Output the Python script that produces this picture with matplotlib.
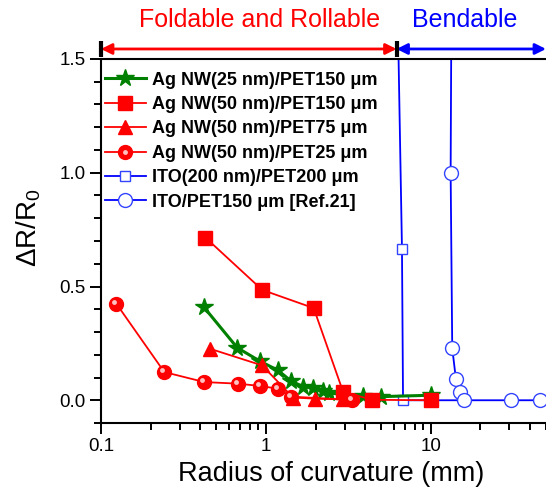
import matplotlib
matplotlib.use("Agg")
import matplotlib.pyplot as plt
import matplotlib.transforms as mtransforms
from matplotlib.ticker import MultipleLocator, LogLocator, NullFormatter, FixedLocator, FixedFormatter

plt.rcParams['font.family'] = ['Liberation Sans', 'DejaVu Sans']
plt.rcParams['mathtext.fontset'] = 'custom'
plt.rcParams['mathtext.rm'] = 'Liberation Sans'
plt.rcParams['mathtext.it'] = 'Liberation Sans:italic'

# bending radius (mm) vs. relative resistance change
r_ag25_150 = [0.42, 0.67, 0.92, 1.18, 1.42, 1.68, 1.94, 2.22, 2.42, 3.9, 5.0, 10.0]
dr_ag25_150 = [0.41, 0.231, 0.172, 0.132, 0.085, 0.06, 0.056, 0.041, 0.031, 0.019, 0.016, 0.022]

r_ag50_150 = [0.43, 0.95, 1.95, 2.94, 4.43, 10.0]
dr_ag50_150 = [0.715, 0.485, 0.405, 0.037, 0.002, 0.0]

r_ag50_75 = [0.46, 0.95, 1.46, 1.99, 2.94]
dr_ag50_75 = [0.226, 0.153, 0.012, 0.007, 0.004]

r_ag50_25 = [0.124, 0.242, 0.423, 0.674, 0.92, 1.18, 1.43, 3.35]
dr_ag50_25 = [0.424, 0.124, 0.08, 0.073, 0.063, 0.051, 0.016, 0.001]

r_ito200 = [6.2, 6.69, 6.79, 15.9]
dr_ito200 = [2.0, 0.665, 0.0, 0.0]

r_ito_ref = [13.4, 13.2, 13.5, 14.2, 15.0, 15.9, 30.8, 45.8]
dr_ito_ref = [2.0, 1.0, 0.228, 0.095, 0.038, 0.0, 0.0, 0.0]

labels = ['Ag NW(25 nm)/PET150 μm', 'Ag NW(50 nm)/PET150 μm', 'Ag NW(50 nm)/PET75 μm',
          'Ag NW(50 nm)/PET25 μm', 'ITO(200 nm)/PET200 μm', 'ITO/PET150 μm [Ref.21]']

x_ticks = [0.1, 1, 10]
x_ticklabels = ['0.1', '1', '10']
region_edge = 6.2

red = '#ff0000'
blue = '#0000ff'
green = '#008000'

fig = plt.figure(figsize=(5.46, 4.94), dpi=100)
ax = fig.add_axes([0.185, 0.1437, 0.815, 0.7369])

# ITO curves underneath
l_ito200, = ax.plot(r_ito200, dr_ito200, '-s', color=blue, lw=1.3, ms=7, mfc='white',
                    mec='#3344ff', mew=1.0, zorder=2)
l_itoref, = ax.plot(r_ito_ref, dr_ito_ref, '-o', color=blue, lw=1.3, ms=10, mfc='white',
                    mec='#3344ff', mew=1.0, zorder=2)

l_ag25, = ax.plot(r_ag25_150, dr_ag25_150, '-*', color=green, lw=2.2, ms=13, zorder=3)
l_sq, = ax.plot(r_ag50_150, dr_ag50_150, '-s', color=red, lw=1.3, ms=9.5, zorder=3)
l_tri, = ax.plot(r_ag50_75, dr_ag50_75, '-^', color=red, lw=1.3, ms=10.5, zorder=3)
l_sph, = ax.plot(r_ag50_25, dr_ag50_25, '-o', color=red, lw=1.3, ms=10, zorder=3)
# highlight spot on the spheres
shine = mtransforms.offset_copy(ax.transData, fig=fig, x=-1.5, y=1.5, units='points')
l_hl, = ax.plot(r_ag50_25, dr_ag50_25, 'o', color='#ffc0c0', ms=3.5, mew=0,
                transform=shine, zorder=3.1)

ax.set_xscale('log')
ax.set_xlim(0.1, 50)
ax.set_ylim(-0.1, 1.5)

ax.xaxis.set_major_locator(FixedLocator(x_ticks))
ax.xaxis.set_major_formatter(FixedFormatter(x_ticklabels))
ax.xaxis.set_minor_locator(LogLocator(base=10, subs=range(2, 10)))
ax.xaxis.set_minor_formatter(NullFormatter())
ax.yaxis.set_major_locator(MultipleLocator(0.5))
ax.yaxis.set_minor_locator(MultipleLocator(0.1))
ax.yaxis.set_major_formatter(lambda v, p: f'{v:.1f}')

ax.tick_params(which='both', direction='out', width=1.4, labelsize=13.5, top=False, right=False)
ax.tick_params(which='major', length=8, pad=3)
ax.tick_params(which='minor', length=5)
for s in ['left', 'bottom', 'top']:
    ax.spines[s].set_linewidth(1.5)
ax.spines['right'].set_visible(False)

ax.set_xlabel('Radius of curvature (mm)', fontsize=19.5, labelpad=1)
ax.xaxis.set_label_coords(0.518, -0.105)
ax.set_ylabel('ΔR/R$_\\mathregular{0}$', fontsize=20)
ax.yaxis.set_label_coords(-0.13, 0.536)

leg = ax.legend([l_ag25, l_sq, l_tri, (l_sph, l_hl), l_ito200, l_itoref], labels,
                loc='upper left', bbox_to_anchor=(-0.004, 0.98), frameon=False,
                prop={'weight': 'bold', 'size': 13}, handlelength=2.3, handletextpad=0.35,
                labelspacing=0.41, borderpad=0.3, borderaxespad=0)

# region markers above the plot
yb = 1.0275
trans = mtransforms.blended_transform_factory(ax.transData, ax.transAxes)
ax.annotate('', xy=(region_edge, yb), xytext=(0.1, yb), xycoords=trans, textcoords=trans,
            arrowprops=dict(arrowstyle='<|-|>', color=red, lw=2, mutation_scale=16,
                            shrinkA=0, shrinkB=0), annotation_clip=False)
ax.annotate('', xy=(50, yb), xytext=(region_edge, yb), xycoords=trans, textcoords=trans,
            arrowprops=dict(arrowstyle='<|-|>', color=blue, lw=2, mutation_scale=16,
                            shrinkA=0, shrinkB=0), annotation_clip=False)
ax.plot([0.1, region_edge], [yb, yb], transform=trans, ls='none', marker='|', ms=12,
        mew=3, color='black', clip_on=False, zorder=5)
ax.text(0.92, 1.107, 'Foldable and Rollable', transform=trans, color=red, fontsize=18,
        ha='center', va='center')
ax.text(16.1, 1.107, 'Bendable', transform=trans, color=blue, fontsize=18,
        ha='center', va='center')

fig.savefig('out.png', dpi=100)
